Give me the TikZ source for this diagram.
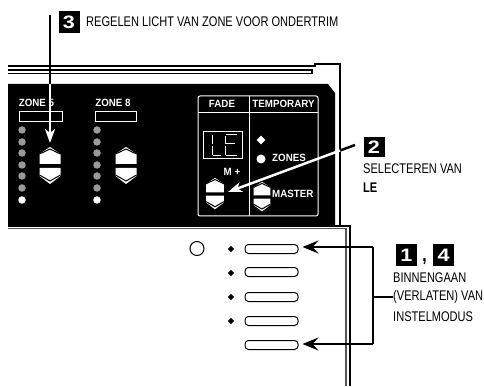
\documentclass[tikz,border=0pt]{standalone}
\usepackage{fontspec}
\setmainfont[FakeStretch=0.79]{Liberation Sans}
\newfontfamily\panelfont[FakeStretch=0.93]{Liberation Sans}
\newfontfamily\numfont[FakeStretch=1.2]{Liberation Sans}
\usetikzlibrary{arrows.meta,calc,shapes.geometric}
\definecolor{panelgrey}{HTML}{9A9A9A}
\definecolor{rimgrey}{HTML}{555555}
\tikzset{
  capt/.style    ={font=\fontsize{14}{16}\selectfont, anchor=west, inner sep=0pt},
  captb/.style   ={capt, font=\fontsize{14}{16}\selectfont\bfseries},
  numbox/.style  ={fill=black, text=white, font=\numfont\fontsize{18}{18}\selectfont\bfseries,
                   inner sep=0pt, minimum width=21pt, minimum height=22pt},
  plab/.style    ={text=white, font=\panelfont\fontsize{10.5}{11}\selectfont\bfseries, inner sep=0pt},
  rim/.style     ={draw=black, line width=1.3pt},
  plw/.style     ={draw=white, line width=1pt},
  led/.style     ={circle, fill=panelgrey, inner sep=0pt, minimum size=7.5pt},
  ledon/.style   ={led, fill=white},
  slot/.style    ={draw=white, line width=1pt, fill=black, inner sep=0pt},
  btn/.style     ={draw=black, line width=1pt, rounded corners=3.5pt, inner sep=0pt,
                   minimum width=53pt, minimum height=9pt},
  bul/.style     ={diamond, aspect=1, fill=black, inner sep=0pt, minimum size=6.5pt},
  fl/.style      ={draw=black, line width=2.5pt, -{Stealth[length=16pt,width=13pt,inset=6pt]}},
  flb/.style     ={draw=black, line width=2.5pt},
  wl/.style      ={draw=white, line width=2.5pt, -{Stealth[length=14pt,width=10pt,inset=4pt]}},
}
\newcommand{\rocker}[3]{%
  \begin{scope}[shift={(#1,#2)},scale=#3]
    \fill[white] (-10.5,18) -- (-10.5,8) -- (0,1) -- (10.5,8) -- (10.5,18) -- cycle;
    \draw[black,line width=1pt] (-10.5,8) -- (0,3) -- (10.5,8);
    \fill[white] (-10.5,22) -- (10.5,22) -- (10.5,30) -- (0,38) -- (-10.5,30) -- cycle;
    \draw[black,line width=1pt] (-10.5,29) -- (0,35) -- (10.5,29);
  \end{scope}}
\begin{document}
\begin{tikzpicture}[x=1pt,y=-1pt]
  \useasboundingbox (0,0) rectangle (484,387);
  % housing rim above the black panel
  \draw[rim] (8,66) -- (315,66) -- (315,64) -- (340,64) -- (340,225);
  \draw[rim] (8,70) -- (312,70) -- (312,73.5) -- (8,73.5);
  \fill[black] (8,84) -- (328,84) -- (335,93) -- (335,227) -- (8,227) -- cycle;
  % lower panel
  \draw[draw=rimgrey,line width=1.2pt] (8,228.5) -- (346,228.5) -- (346,386);
  \draw[rim] (335,226) -- (350,226) -- (350,386);
  % zone strips
  \node[plab] (z5) at (36.5,103) {ZONE 5};
  \node[plab] (z8) at (113,103) {ZONE 8};
  \node[slot,minimum width=43pt,minimum height=10pt] (s5) at (40.5,116.5) {};
  \node[slot,minimum width=41pt,minimum height=10pt] (s8) at (115.5,116.5) {};
  \foreach \name/\xx in {a/22,b/97}{
    \foreach \n/\yy in {1/130,2/142,3/153,4/165,5/176,6/188}
      \node[led] (\name\n) at (\xx,\yy) {};
    \node[ledon] (\name7) at (\xx,200) {};
  }
  \rocker{50}{146}{1}
  \rocker{126}{146}{1}
  \coordinate (rock5) at (50,143);
  % fade and temporary block
  \draw[plw,rounded corners=2pt] (198,96) rectangle (318,216);
  \draw[plw] (249,96) -- (249,216);
  \draw[plw] (198,113) -- (318,113);
  \node[plab] (fade) at (222,103.5) {FADE};
  \node[plab] (temp) at (283.5,103.5) {TEMPORARY};
  \node[slot,minimum width=39pt,minimum height=27pt] (disp) at (222.5,145.5) {};
  \draw[plw] (212,135) -- (212,144) (212,146) -- (212,155) (213,155.5) -- (221,155.5);
  \draw[plw] (237,135) -- (226,135) (225,136) -- (225,144) -- (235,144) (225,146) -- (225,155) (226,156) -- (237,156);
  \node[plab] (mp) at (232,172) {M +};
  \rocker{215}{177}{.85}
  \rocker{262}{181}{.8}
  \node[diamond,fill=white,inner sep=0pt,minimum size=9pt] (dia) at (261,140) {};
  \node[circle,fill=white,inner sep=0pt,minimum size=9pt] (blob) at (261,159) {};
  \node[plab,anchor=west] (zones) at (272,158) {ZONES};
  \node[plab,anchor=west] (master) at (272,194) {MASTER};
  \coordinate (fadeup) at (228,192);
  % front panel
  \node[circle,draw=black,line width=1pt,inner sep=0pt,minimum size=14pt] (lamp) at (197,248.5) {};
  \foreach \n/\yy in {1/249,2/273,3/297,4/321}
    \node[bul] (d\n) at (231,\yy) {};
  \foreach \n/\yy in {1/249,2/272,3/297,4/321,5/345}
    \node[btn] (p\n) at (271.5,\yy) {};
  % callout 3
  \node[numbox] (n3) at (69,22) {3};
  \node[capt] (t3) at (86,22) {REGELEN LICHT VAN ZONE VOOR ONDERTRIM};
  \coordinate (a3) at (50,15);
  \coordinate (a3m) at (50,84);
  \draw[flb] (a3) -- (a3m);
  \draw[wl] (a3m) -- (rock5);
  % callout 2
  \node[numbox,minimum height=20pt] (n2) at (374,147.5) {2};
  \node[capt] (t2a) at (363,169) {SELECTEREN VAN};
  \node[captb] (t2b) at (363,188) {LE};
  \coordinate (a2) at (355,145);
  \coordinate (a2m) at ($(a2)!0.118!(fadeup)$);
  \draw[flb] (a2) -- (a2m);
  \draw[wl] (a2m) -- (fadeup);
  % callout 1 and 4
  \node[numbox] (n1) at (406.5,255) {1};
  \node[font=\fontsize{20}{20}\selectfont\bfseries,inner sep=0pt] (komma) at (424.5,262) {,};
  \node[numbox] (n4) at (443.5,255) {4};
  \node[capt] (t1a) at (393,278) {BINNENGAAN};
  \node[capt] (t1b) at (393,297) {(VERLATEN) VAN};
  \node[capt] (t1c) at (393,317) {INSTELMODUS};
  \coordinate (br1) at (373,247);
  \coordinate (br5) at (373,344);
  \draw[flb] (t1b.west) -- (t1b.west -| br1);
  \draw[flb] (br1) -- (br5);
  \draw[fl,shorten >=4pt] (br1) -- (br1 -| p1.east);
  \draw[fl,shorten >=4pt] (br5) -- (br5 -| p5.east);
\end{tikzpicture}
\end{document}
